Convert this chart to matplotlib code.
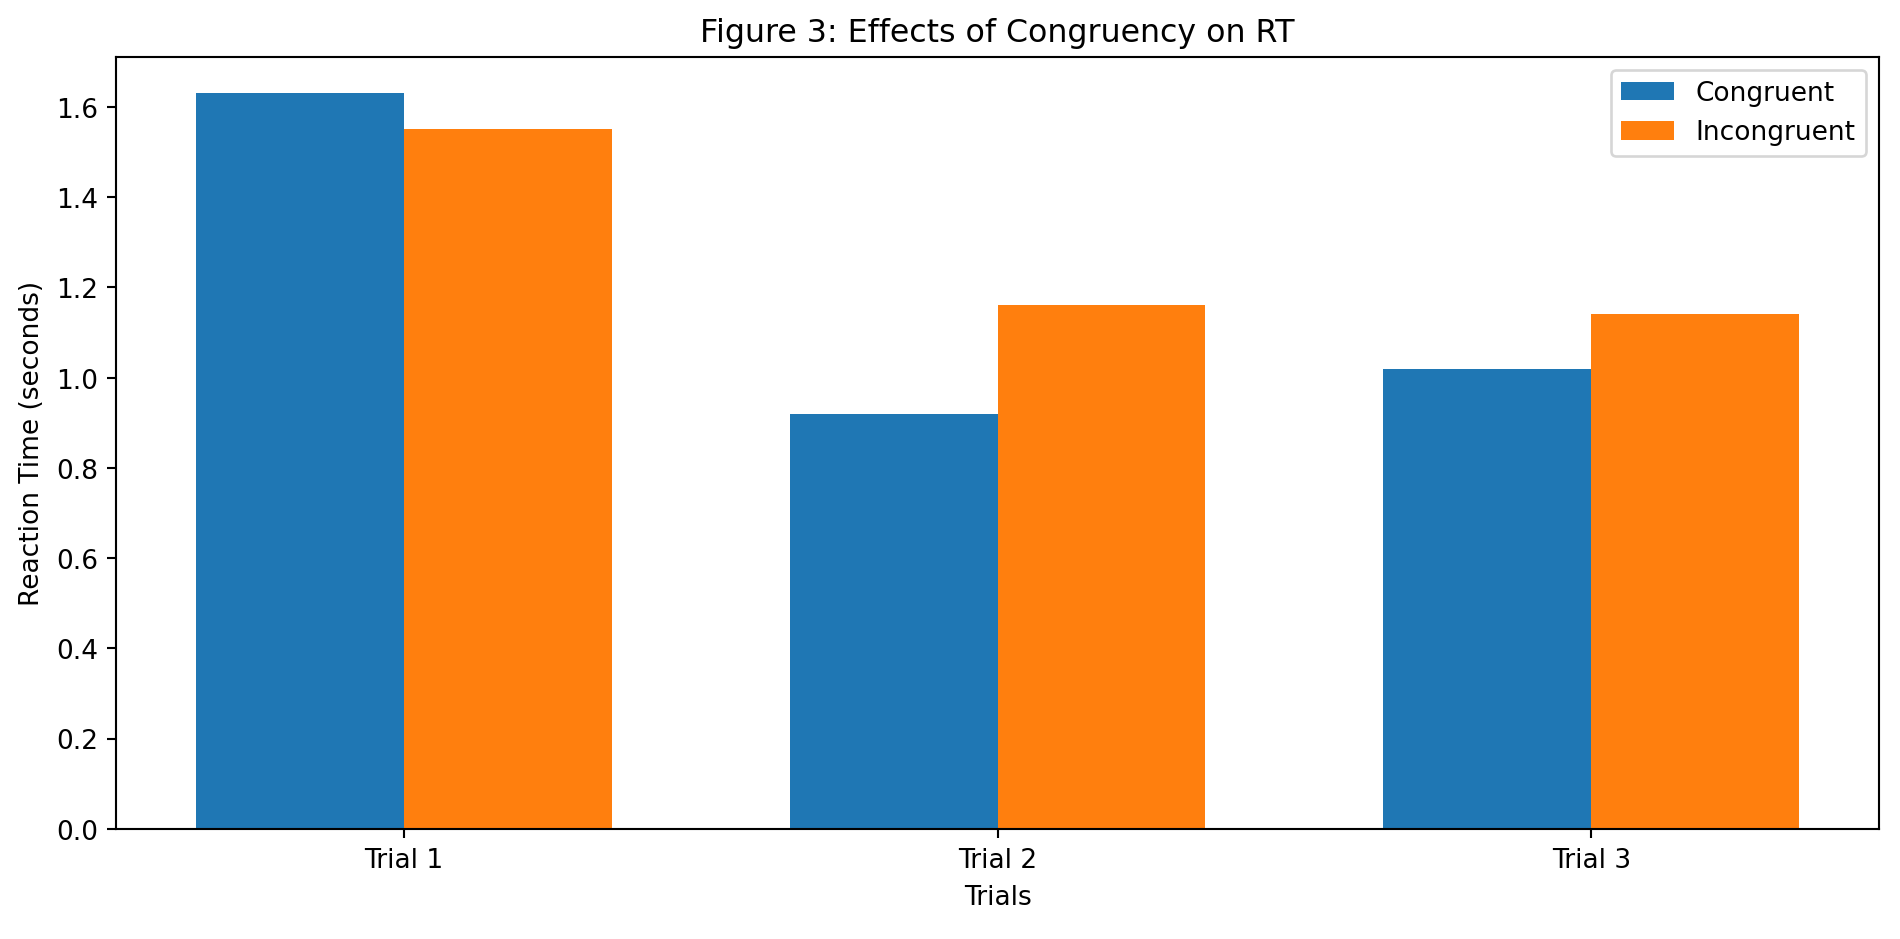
import numpy as np
import matplotlib
matplotlib.use('Agg')
import matplotlib.pyplot as plt

# Mean reaction times per trial
trials = ['Trial 1', 'Trial 2', 'Trial 3']
congruent = [1.63, 0.92, 1.02]
incongruent = [1.55, 1.16, 1.14]

x = np.arange(len(trials))
width = 0.35

fig, ax = plt.subplots(figsize=(10, 4.947), dpi=190)
ax.bar(x - width / 2, congruent, width, label='Congruent')
ax.bar(x + width / 2, incongruent, width, label='Incongruent')

ax.set_xlabel('Trials')
ax.set_ylabel('Reaction Time (seconds)')
ax.set_title('Figure 3: Effects of Congruency on RT')
ax.set_xticks(x)
ax.set_xticklabels(trials)
ax.legend()

fig.subplots_adjust(left=0.0612, right=0.989, top=0.9388, bottom=0.1173)
plt.savefig('out.png', dpi=190)
plt.close()
